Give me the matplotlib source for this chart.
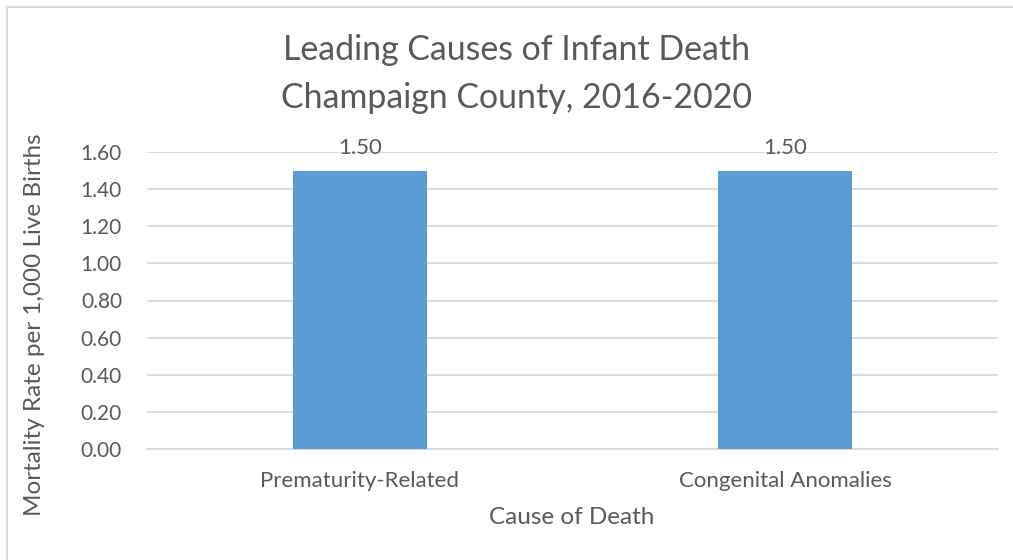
import matplotlib.pyplot as plt
from matplotlib.patches import Rectangle

causes = ["Prematurity-Related", "Congenital Anomalies"]
rates = [1.50, 1.50]
yticks = [0.0, 0.2, 0.4, 0.6, 0.8, 1.0, 1.2, 1.4, 1.6]
title_lines = ["Leading Causes of Infant Death", "Champaign County, 2016-2020"]

plt.rcParams['font.family'] = ['Lato', 'DejaVu Sans']
txt = '#595959'
grid = '#D9D9D9'
W, H = 1013, 560

fig = plt.figure(figsize=(W / 100, H / 100), dpi=100)
ax = fig.add_axes([147/W, 1 - 449/H, 851/W, 297/H])

xs = list(range(len(causes)))
ax.bar(xs, rates, width=0.315, color='#5B9BD5', zorder=3)
for x, r in zip(xs, rates):
    ax.text(x, r + 0.07, "%.2f" % r, ha='center', va='bottom', fontsize=16, color=txt)

ax.set_xlim(-0.5, len(causes) - 0.5)
ax.set_ylim(0, 1.6)
ax.set_yticks(yticks)
ax.set_yticklabels(["%.2f" % v for v in yticks])
ax.set_xticks(xs)
ax.set_xticklabels(causes, fontsize=16)
ax.tick_params(length=0, colors=txt, labelsize=15)
ax.tick_params(axis='x', pad=16, labelsize=16)
ax.tick_params(axis='y', pad=18)
ax.yaxis.grid(True, color=grid, lw=1.3, zorder=0)
for s in ['top', 'right', 'left']:
    ax.spines[s].set_visible(False)
ax.spines['bottom'].set_color(grid)
ax.spines['bottom'].set_linewidth(1.3)

fig.text(35/W, 1 - 325/H, "Mortality Rate per 1,000 Live Births", rotation=90,
         ha='center', va='center', fontsize=17.5, color=txt)
fig.text(572/W, 1 - 518/H, "Cause of Death", ha='center', va='center',
         fontsize=17.5, color=txt)

for i, line in enumerate(title_lines):
    fig.text(517/W, 1 - (50 + 48 * i)/H, line, ha='center', va='center',
             fontsize=24.4, color=txt)

fig.patches.append(Rectangle((7/W, -0.1), 1.2, 1 - 7/H + 0.1, transform=fig.transFigure,
                             fill=False, edgecolor=grid, lw=1.5))

fig.savefig("out.png", dpi=100)
